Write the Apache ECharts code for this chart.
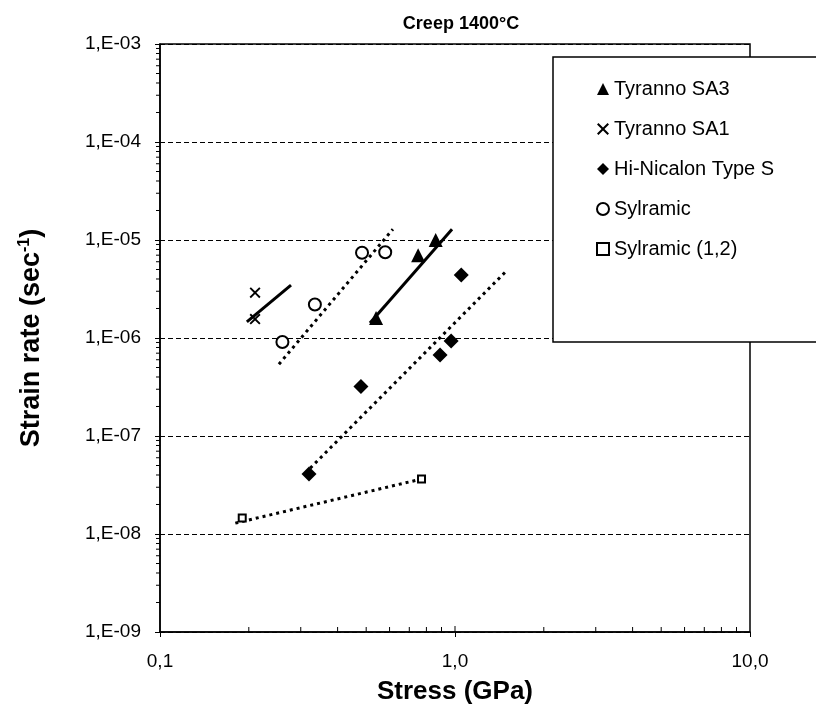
<!DOCTYPE html>
<html><head><meta charset="utf-8">
<script src="https://cdn.jsdelivr.net/npm/echarts@6/dist/echarts.min.js"></script>
<style>html,body{margin:0;padding:0;background:#fff}#c{width:816px;height:713px}</style>
</head><body><div id="c"></div>
<script>
// ---- data ----
const seriesNames = ['Tyranno SA3','Tyranno SA1','Hi-Nicalon Type S','Sylramic','Sylramic (1,2)'];
const sa3Stress = [0.54, 0.75, 0.86];
const sa3Rate   = [1.6e-6, 7.0e-6, 1.0e-5];
const sa1Stress = [0.21, 0.21];
const sa1Rate   = [2.9e-6, 1.56e-6];
const hnsStress = [0.32, 0.48, 0.89, 0.97, 1.05];
const hnsRate   = [4.1e-8, 3.2e-7, 6.7e-7, 9.3e-7, 4.4e-6];
const sylStress = [0.26, 0.335, 0.484, 0.58];
const sylRate   = [9.1e-7, 2.2e-6, 7.4e-6, 7.5e-6];
const syl12Stress = [0.19, 0.77];
const syl12Rate   = [1.46e-8, 3.64e-8];
// fitted trend lines (end points)
const sa3FitStress = [0.515, 0.977];   const sa3FitRate = [1.42e-6, 1.29e-5];
const sa1FitStress = [0.197, 0.278];   const sa1FitRate = [1.46e-6, 3.47e-6];
const hnsFitStress = [0.323, 1.48];    const hnsFitRate = [4.7e-8, 4.7e-6];
const sylFitStress = [0.253, 0.616];   const sylFitRate = [5.4e-7, 1.29e-5];
const syl12FitStress = [0.18, 0.77];   const syl12FitRate = [1.29e-8, 3.64e-8];
// axes
const xMin = 0.1, xMax = 10, yMin = 1e-9, yMax = 1e-3;
const title = 'Creep 1400°C';

const zip = (a, b) => a.map((v, i) => [v, b[i]]);
const FONT = 'Liberation Sans, Arial, sans-serif';
const crossPath = 'path://M0,1.2L1.2,0L5,3.8L8.8,0L10,1.2L6.2,5L10,8.8L8.8,10L5,6.2L1.2,10L0,8.8L3.8,5Z';

// minor tick values (log axes)
const xMinor = [], yMinor = [];
for (let e = -1; e < 1; e++) for (let k = 2; k <= 9; k++) xMinor.push(k * Math.pow(10, e));
for (let e = -9; e < -3; e++) for (let k = 2; k <= 9; k++) yMinor.push(k * Math.pow(10, e));
const tickData = xMinor.map(v => [v, yMin, 0]).concat([[1, yMin, 1]]).concat(yMinor.map(v => [xMin, v, 2]));

function fitSeries(name, xs, ys, dotted) {
  return {
    name, type: 'line', data: zip(xs, ys), showSymbol: false, symbol: 'none',
    silent: true, z: 3,
    lineStyle: { color: '#000', width: 3, opacity: 1, type: dotted ? [3, 4] : 'solid' }
  };
}

const chart = echarts.init(document.getElementById('c'), null, { renderer: 'canvas' });
chart.setOption({
  animation: false,
  backgroundColor: '#fff',
  textStyle: { fontFamily: FONT },
  title: {
    text: title, left: 456, top: 10, textAlign: 'center',
    textStyle: { fontFamily: FONT, fontSize: 18, fontWeight: 'bold', color: '#000' }
  },
  grid: { left: 160, right: 66, top: 44, bottom: 81, show: true, borderColor: '#000', borderWidth: 1.5, backgroundColor: 'transparent' },
  legend: {
    data: seriesNames, orient: 'vertical', left: 553, top: 57,
    backgroundColor: '#fff', borderColor: '#000', borderWidth: 1.5,
    padding: [22, 200, 83, 43], itemGap: 20, itemWidth: 12, itemHeight: 12,
    textStyle: { fontFamily: FONT, fontSize: 20, color: '#000', lineHeight: 20 },
    selectedMode: false
  },
  xAxis: {
    type: 'log', logBase: 10, min: xMin, max: xMax, interval: 1,
    name: 'Stress (GPa)', nameLocation: 'middle', nameGap: 47,
    nameTextStyle: { fontFamily: FONT, fontSize: 26, fontWeight: 'bold', color: '#000' },
    axisLine: { lineStyle: { color: '#000', width: 1.5 } },
    axisTick: { show: true, length: 5, lineStyle: { color: '#000' } },
    axisLabel: { color: '#000', fontSize: 19, fontFamily: FONT, margin: 20,
      formatter: v => v.toFixed(1).replace('.', ',') },
    splitLine: { show: false }
  },
  yAxis: {
    type: 'log', logBase: 10, min: yMin, max: yMax, interval: 1,
    name: '{b|Strain rate (sec}{s|-1}{b|)}', nameLocation: 'middle', nameGap: 114, nameRotate: 90,
    nameTextStyle: { fontFamily: FONT, fontSize: 27, fontWeight: 'bold', color: '#000',
      rich: { b: { fontFamily: FONT, fontSize: 27, fontWeight: 'bold', color: '#000' },
              s: { fontFamily: FONT, fontSize: 16, fontWeight: 'bold', color: '#000', verticalAlign: 'top', padding: [0, 0, 13, 0] } } },
    axisLine: { lineStyle: { color: '#000', width: 1.5 } },
    axisTick: { show: true, length: 5, lineStyle: { color: '#000' } },
    axisLabel: { color: '#000', fontSize: 19, fontFamily: FONT, margin: 19,
      formatter: v => { const e = Math.round(Math.log10(v)); const a = Math.abs(e); return '1,E' + (e < 0 ? '-' : '+') + (a < 10 ? '0' : '') + a; } },
    splitLine: { show: true, lineStyle: { color: '#000', width: 1, type: [5, 3] } }
  },
  series: [
    { type: 'custom', name: 'ticks', silent: true, clip: false, z: 1, data: tickData,
      renderItem: (params, api) => {
        const p = api.coord([api.value(0), api.value(1)]);
        const kind = api.value(2);
        let shape;
        if (kind === 0) shape = { x1: p[0], y1: p[1], x2: p[0], y2: p[1] - 5 };
        else if (kind === 1) shape = { x1: p[0], y1: p[1], x2: p[0], y2: p[1] - 6 };
        else shape = { x1: p[0], y1: p[1], x2: p[0] - 4, y2: p[1] };
        return { type: 'line', shape, style: { stroke: '#000', lineWidth: 1 } };
      } },
    fitSeries('SA3 fit', sa3FitStress, sa3FitRate, false),
    fitSeries('SA1 fit', sa1FitStress, sa1FitRate, false),
    fitSeries('HNS fit', hnsFitStress, hnsFitRate, true),
    fitSeries('Syl fit', sylFitStress, sylFitRate, true),
    fitSeries('Syl12 fit', syl12FitStress, syl12FitRate, true),
    { name: seriesNames[0], type: 'scatter', data: zip(sa3Stress, sa3Rate), symbol: 'triangle', symbolSize: 14, z: 5,
      itemStyle: { color: '#000', opacity: 1 } },
    { name: seriesNames[1], type: 'scatter', data: zip(sa1Stress, sa1Rate), symbol: crossPath, symbolSize: 11, z: 5,
      itemStyle: { color: '#000', opacity: 1 } },
    { name: seriesNames[2], type: 'scatter', data: zip(hnsStress, hnsRate), symbol: 'diamond', symbolSize: 15, z: 5,
      itemStyle: { color: '#000', opacity: 1 } },
    { name: seriesNames[3], type: 'scatter', data: zip(sylStress, sylRate), symbol: 'emptyCircle', symbolSize: 12, z: 5,
      itemStyle: { color: '#000', borderColor: '#000', borderWidth: 1.4, opacity: 1 } },
    { name: seriesNames[4], type: 'scatter', data: zip(syl12Stress, syl12Rate), symbol: 'emptyRect', symbolSize: 7, z: 5,
      itemStyle: { color: '#000', borderColor: '#000', borderWidth: 1.8, opacity: 1 } }
  ]
});
</script></body></html>
